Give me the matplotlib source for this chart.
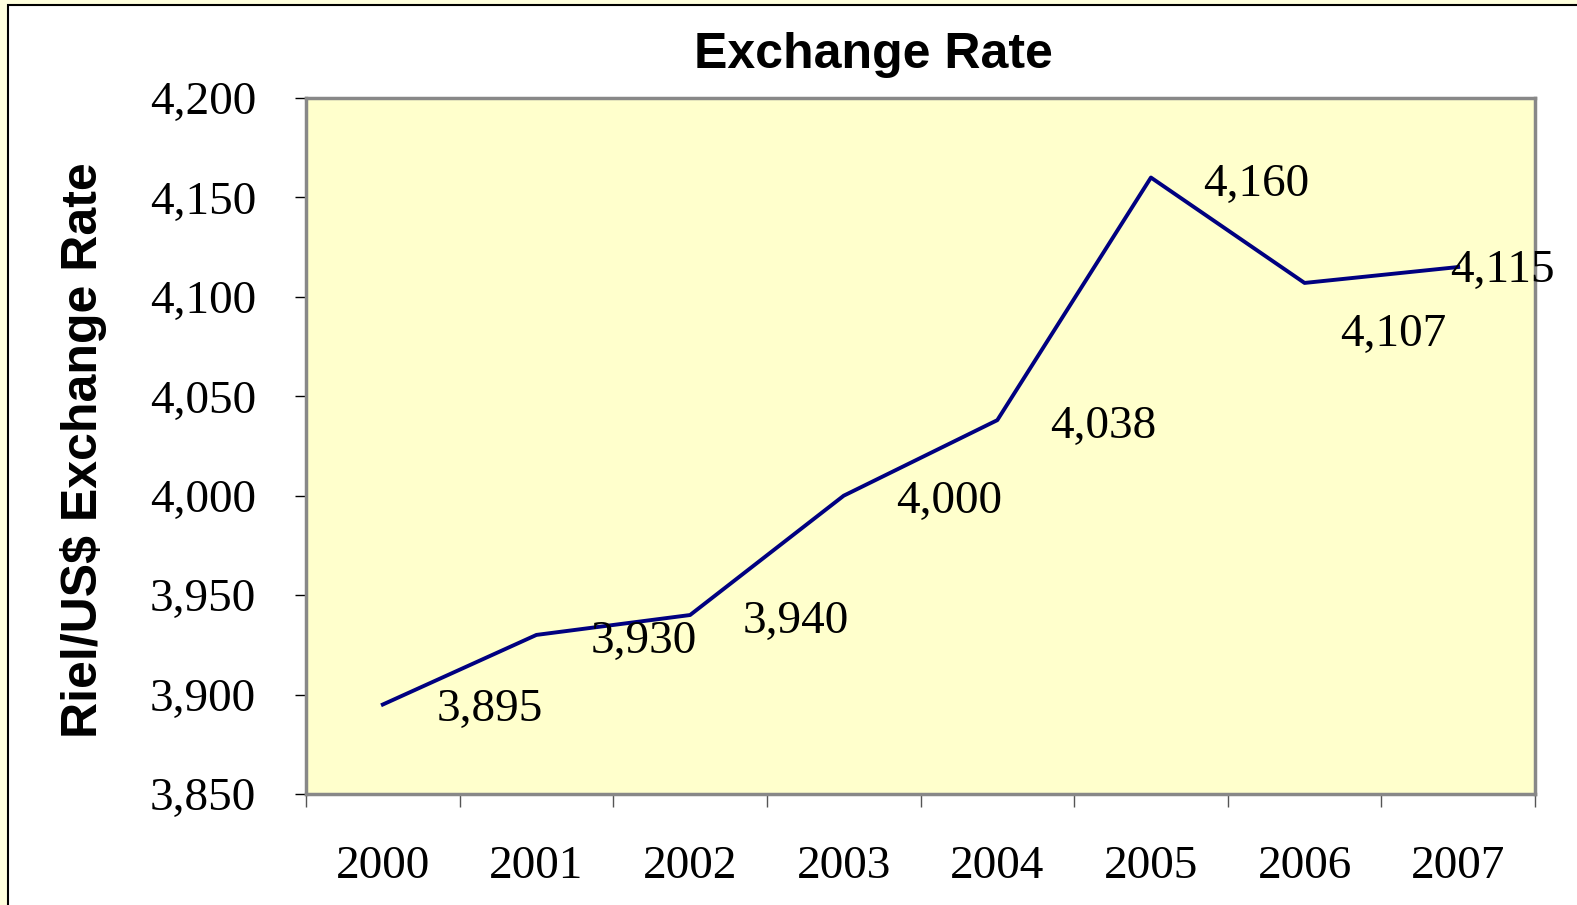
import numpy as np
import matplotlib.pyplot as plt
from matplotlib.patches import Rectangle

# data
years = ['2000', '2001', '2002', '2003', '2004', '2005', '2006', '2007']
rates = [3895, 3930, 3940, 4000, 4038, 4160, 4107, 4115]
yticks = [3850, 3900, 3950, 4000, 4050, 4100, 4150, 4200]

# label offsets in points (dx, dy) relative to each point
label_off = [(77, -4), (77, -5), (76, -5), (76, -4), (76, -5), (76, -5), (64, -37), (32, -3)]

W, H = 1577, 905
fig = plt.figure(figsize=(W / 100, H / 100), dpi=100)
fig.patch.set_facecolor('#FFFFDD')

# white chart area with black frame
fig.patches.append(Rectangle((8 / W, -0.01), 1.02, 1 - 5 / H + 0.01, transform=fig.transFigure,
                             facecolor='white', edgecolor='black', linewidth=1.5, zorder=-10))

ax = fig.add_axes([306 / W, (H - 794) / H, (1535 - 306) / W, (794 - 98) / H])
ax.set_facecolor('#FFFFCC')

x = np.arange(len(years))
ax.plot(x, rates, color='#000080', linewidth=2.8, zorder=3)

for xi, r, off in zip(x, rates, label_off):
    ax.annotate(f'{r:,}', (xi, r), xytext=off, textcoords='offset points',
                ha='center', va='center', fontsize=34, family='Liberation Serif', zorder=4)

ax.set_xlim(-0.5, len(years) - 0.5)
ax.set_ylim(3850, 4200)

ax.set_yticks(yticks)
ax.set_yticklabels([f'{t:,}' for t in yticks], fontsize=34, family='Liberation Serif')
ax.tick_params(axis='y', direction='out', length=8, width=1, color='black', pad=28)

ax.set_xticks(np.arange(-0.5, len(years), 1))
ax.set_xticklabels([])
ax.set_xticks(x, minor=True)
ax.set_xticklabels(years, minor=True, fontsize=34, family='Liberation Serif')
ax.tick_params(axis='x', which='major', direction='out', length=9, width=1, color='#555555')
ax.tick_params(axis='x', which='minor', length=0, pad=37)

for s in ax.spines.values():
    s.set_color('#888888')
    s.set_linewidth(2.5)

fig.text(873 / W, 1 - 55 / H, 'Exchange Rate', ha='center', va='center',
         fontsize=36, fontweight='bold', family='Liberation Sans')
fig.text(84 / W, 1 - 450 / H, 'Riel/US$ Exchange Rate', ha='center', va='center',
         rotation=90, fontsize=36, fontweight='bold', family='Liberation Sans')

fig.savefig('out.png', dpi=100)
